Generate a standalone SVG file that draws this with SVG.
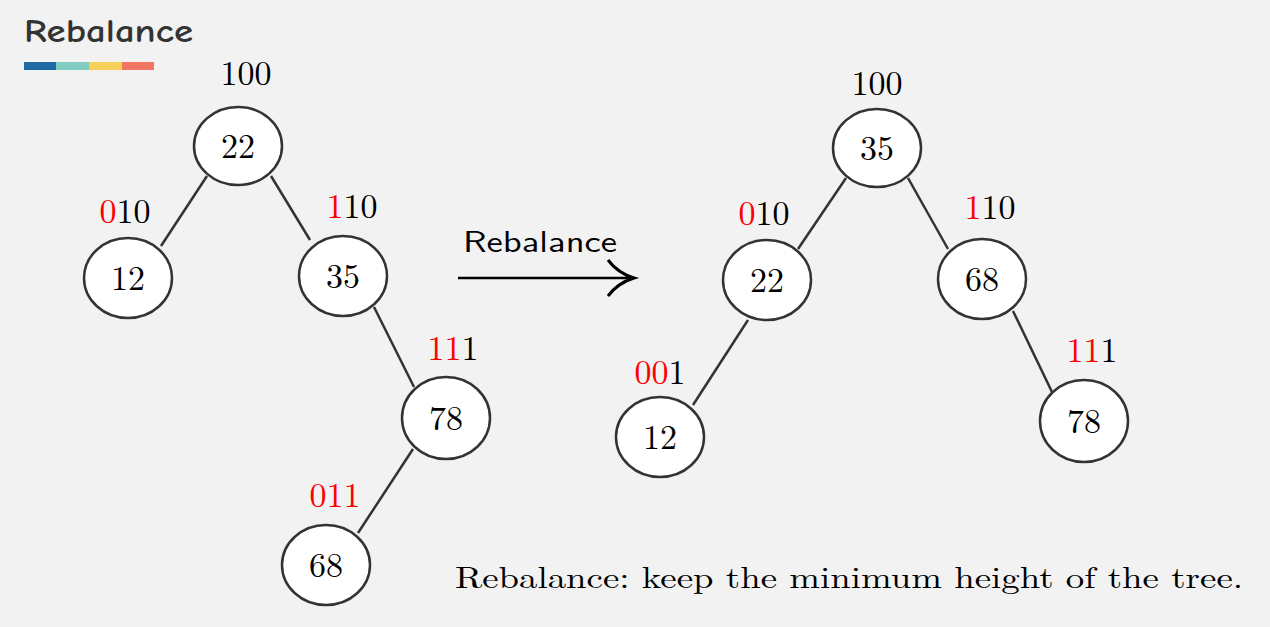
<svg xmlns="http://www.w3.org/2000/svg" width="1270" height="627" viewBox="0 0 1270 627">
<style>
.n ellipse{fill:#fff;stroke:#333;stroke-width:2.5}
.t{font-family:"Latin Modern Roman","Liberation Serif",serif;font-size:34px;fill:#000;text-anchor:middle}
.r{fill:#ff0000}
.e line{stroke:#333;stroke-width:2.5}
</style>
<rect width="1270" height="627" fill="#f2f2f2"/>
<text x="24" y="42" font-family="'Comic Neue','DejaVu Sans',sans-serif" font-size="32" font-weight="bold" fill="#333" textLength="169" lengthAdjust="spacingAndGlyphs">Rebalance</text>
<rect x="24" y="62" width="32" height="8" fill="#1f6aa5"/>
<rect x="56" y="62" width="33" height="8" fill="#82ccc2"/>
<rect x="89" y="62" width="33" height="8" fill="#f7d05a"/>
<rect x="122" y="62" width="32" height="8" fill="#f27564"/>
<g class="e">
<line x1="207" y1="176" x2="161" y2="246"/>
<line x1="271" y1="176" x2="310" y2="240"/>
<line x1="374" y1="307" x2="414" y2="387"/>
<line x1="413" y1="449" x2="358" y2="533"/>
<line x1="846" y1="178" x2="798" y2="249"/>
<line x1="908" y1="178" x2="948" y2="249"/>
<line x1="748" y1="320" x2="693" y2="405"/>
<line x1="1013" y1="311" x2="1052" y2="392"/>
</g>
<g id="L22" class="n"><ellipse cx="238" cy="146" rx="44" ry="39"/><text class="t" x="238" y="158">22</text></g>
<g id="L12" class="n"><ellipse cx="128" cy="278" rx="44" ry="40"/><text class="t" x="128" y="290">12</text></g>
<g id="L35" class="n"><ellipse cx="343" cy="276" rx="44" ry="40"/><text class="t" x="343" y="288">35</text></g>
<g id="L78" class="n"><ellipse cx="446" cy="418" rx="44" ry="41"/><text class="t" x="446" y="430">78</text></g>
<g id="L68" class="n"><ellipse cx="326" cy="565" rx="44" ry="40"/><text class="t" x="326" y="577">68</text></g>
<g id="R35" class="n"><ellipse cx="877" cy="148" rx="44" ry="39"/><text class="t" x="877" y="160">35</text></g>
<g id="R22" class="n"><ellipse cx="767" cy="280" rx="44" ry="40"/><text class="t" x="767" y="292">22</text></g>
<g id="R68" class="n"><ellipse cx="982" cy="279" rx="44" ry="40"/><text class="t" x="982" y="291">68</text></g>
<g id="R12" class="n"><ellipse cx="660" cy="437" rx="44" ry="40"/><text class="t" x="660" y="449">12</text></g>
<g id="R78" class="n"><ellipse cx="1084" cy="421" rx="44" ry="41"/><text class="t" x="1084" y="433">78</text></g>
<g id="labels">
<text class="t" x="246" y="85">100</text>
<text class="t" x="125" y="223"><tspan class="r">0</tspan>10</text>
<text class="t" x="352" y="218"><tspan class="r">1</tspan>10</text>
<text class="t" x="453" y="360"><tspan class="r">11</tspan>1</text>
<text class="t r" x="335" y="507">011</text>
<text class="t" x="877" y="95">100</text>
<text class="t" x="764" y="225"><tspan class="r">0</tspan>10</text>
<text class="t" x="990" y="219"><tspan class="r">1</tspan>10</text>
<text class="t" x="660" y="384"><tspan class="r">00</tspan>1</text>
<text class="t" x="1092" y="362"><tspan class="r">11</tspan>1</text>
</g>
<g id="arrow">
<text x="463" y="252" font-family="'Latin Modern Sans','DejaVu Sans',sans-serif" font-size="30" fill="#000" textLength="154" lengthAdjust="spacingAndGlyphs">Rebalance</text>
<line x1="458" y1="278" x2="632" y2="278" stroke="#000" stroke-width="2.5"/>
<path d="M608,260 C614,268 624,275 634,278 C624,281 614,288 608,296" fill="none" stroke="#000" stroke-width="3"/>
</g>
<text x="455" y="588" font-family="'Latin Modern Roman','Liberation Serif',serif" font-size="30" fill="#000" textLength="788" lengthAdjust="spacingAndGlyphs">Rebalance: keep the minimum height of the tree.</text>
</svg>
